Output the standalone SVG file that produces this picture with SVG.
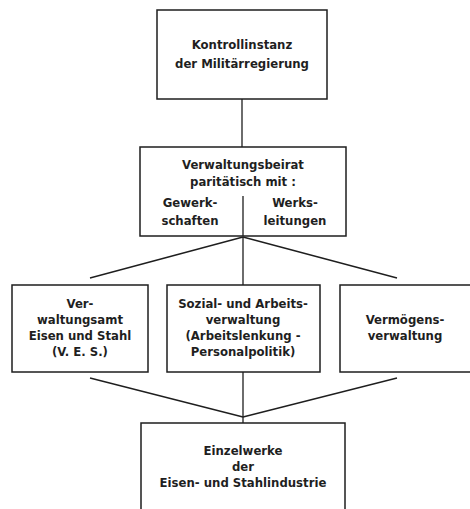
<svg xmlns="http://www.w3.org/2000/svg" width="470" height="509" viewBox="0 0 470 509">
<style>
.box{fill:none;stroke:#1e1e1e;stroke-width:1.5}
.ln{fill:none;stroke:#1e1e1e;stroke-width:1.3}
text{font-family:"DejaVu Sans Condensed","DejaVu Sans",sans-serif;font-size:13px;font-weight:bold;fill:#1f1f1f;text-anchor:middle}
</style>
<rect width="470" height="509" fill="#ffffff"/>
<g id="connectors">
<line class="ln" x1="242" y1="99" x2="242" y2="147"/>
<line class="ln" x1="243" y1="237" x2="90" y2="278"/>
<line class="ln" x1="243" y1="237" x2="397" y2="278"/>
<line class="ln" x1="243" y1="237" x2="243" y2="285"/>
<line class="ln" x1="90" y1="378" x2="243" y2="417"/>
<line class="ln" x1="397" y1="378" x2="243" y2="417"/>
<line class="ln" x1="243" y1="372" x2="243" y2="423"/>
</g>
<g id="kontrollinstanz">
<rect class="box" x="157" y="10" width="170" height="89"/>
<text x="242" y="49">Kontrollinstanz</text>
<text x="242" y="68">der Militärregierung</text>
</g>
<g id="verwaltungsbeirat">
<rect class="box" x="140" y="147" width="206" height="89"/>
<text x="243" y="169">Verwaltungsbeirat</text>
<text x="243" y="186">paritätisch mit :</text>
<line class="ln" x1="243" y1="196" x2="243" y2="236"/>
<text x="190" y="207">Gewerk-</text>
<text x="190" y="225">schaften</text>
<text x="295" y="207">Werks-</text>
<text x="295" y="225">leitungen</text>
</g>
<g id="ves">
<rect class="box" x="12" y="285" width="136" height="87"/>
<text x="80" y="308">Ver-</text>
<text x="80" y="324">waltungsamt</text>
<text x="80" y="340">Eisen und Stahl</text>
<text x="80" y="356">(V. E. S.)</text>
</g>
<g id="sozial">
<rect class="box" x="167" y="285" width="153" height="87"/>
<text x="243" y="308">Sozial- und Arbeits-</text>
<text x="243" y="324">verwaltung</text>
<text x="243" y="340">(Arbeitslenkung -</text>
<text x="243" y="356">Personalpolitik)</text>
</g>
<g id="vermoegen">
<rect class="box" x="340" y="285" width="140" height="87"/>
<text x="405" y="324">Vermögens-</text>
<text x="405" y="340">verwaltung</text>
</g>
<g id="einzelwerke">
<rect class="box" x="141" y="423" width="204" height="100"/>
<text x="243" y="455">Einzelwerke</text>
<text x="243" y="471">der</text>
<text x="243" y="487">Eisen- und Stahlindustrie</text>
</g>
</svg>
